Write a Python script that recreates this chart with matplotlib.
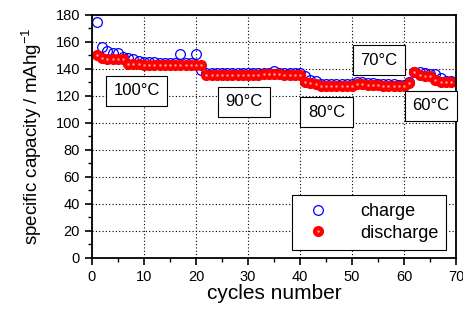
import matplotlib
matplotlib.use("Agg")
import matplotlib.pyplot as plt
from matplotlib.ticker import MultipleLocator
from matplotlib.legend_handler import HandlerTuple

plt.rcParams['font.family'] = ['Liberation Sans', 'DejaVu Sans']

# dados
ciclos = list(range(1, 70))
carga = [175, 156, 153, 152, 152, 149, 148, 147, 146, 145,
         145, 145, 144.5, 144.5, 144.5, 144.5, 151, 144.5, 144.5, 151,
         139, 137, 137, 137, 137, 137, 137, 137, 137, 137,
         137, 137, 137, 137, 138.5, 137, 137, 137, 137, 137,
         135, 132, 131, 129, 129, 128.5, 128.5, 128.5, 128.5, 128.5,
         130, 130, 129.5, 129.5, 129, 129, 128.5, 128.5, 128, 128,
         130, 138, 137.5, 137, 136.5, 136, 133, 131, 131]
descarga = [150, 148, 147, 147, 147, 147, 144, 144, 143.5, 143,
            143, 143, 143, 143, 143, 143, 143, 143, 143, 143,
            143, 135.5, 135.5, 135.5, 135.5, 135.5, 135.5, 135.5, 135.5, 135.5,
            135.5, 135.5, 136, 136.5, 136.5, 136, 135.5, 135.5, 135.5, 135.5,
            130, 129.5, 128.5, 127.5, 127.5, 127.5, 127.5, 127.5, 127.5, 127.5,
            128.5, 128.5, 128, 128, 128, 127.5, 127.5, 127, 127, 127,
            129.5, 137.5, 135.5, 135, 135, 132, 130.5, 130.5, 130.5]

temperaturas = ["100°C", "90°C", "80°C", "70°C", "60°C"]
temp_x = [8.6, 29.3, 45.1, 55.1, 65.1]
temp_y = [124, 115.6, 108, 146.3, 112.6]

fig = plt.figure(figsize=(4.64, 3.24), dpi=100)
ax = fig.add_axes([0.198, 0.204, 0.785, 0.750])

l1, = ax.plot(ciclos, carga, 'o', mfc='none', mec='blue', ms=7, mew=0.9, label='charge')
l2, = ax.plot(ciclos, descarga, 'o', mfc='red', mec='red', ms=7, label='discharge')
l3, = ax.plot(ciclos, descarga, 'o', mfc='#ff9a9a', mec='none', ms=1.8)

for t, x, y in zip(temperaturas, temp_x, temp_y):
    ax.text(x, y, t, ha='center', va='center', fontsize=12,
            bbox=dict(boxstyle='square,pad=0.45', fc='white', ec='black', lw=0.8))

ax.set_xlim(0, 70)
ax.set_ylim(0, 180)
ax.xaxis.set_major_locator(MultipleLocator(10))
ax.xaxis.set_minor_locator(MultipleLocator(5))
ax.yaxis.set_major_locator(MultipleLocator(20))
ax.yaxis.set_minor_locator(MultipleLocator(10))
ax.tick_params(which='major', direction='out', length=5, width=1.2, labelsize=10.5)
ax.tick_params(which='minor', direction='out', length=3, width=1.0)
for s in ax.spines.values():
    s.set_linewidth(1.3)
ax.grid(True, which='major', linestyle=(0, (1, 2)), color='black', linewidth=0.8)

ax.set_xlabel("cycles number", fontsize=15, labelpad=0)
ax.set_ylabel(r"specific capacity / mAhg$^{\mathregular{-1}}$", fontsize=13.5, labelpad=8)

leg = ax.legend([l1, (l2, l3)], ['charge', 'discharge'], loc='lower right',
                handler_map={tuple: HandlerTuple(ndivide=1)},
                fontsize=13, fancybox=False, edgecolor='black', framealpha=1,
                borderpad=0.45, handletextpad=1.3, labelspacing=0.25,
                borderaxespad=0, bbox_to_anchor=(0.973, 0.033))
leg.get_frame().set_linewidth(0.8)

plt.savefig("out.png", dpi=100)
